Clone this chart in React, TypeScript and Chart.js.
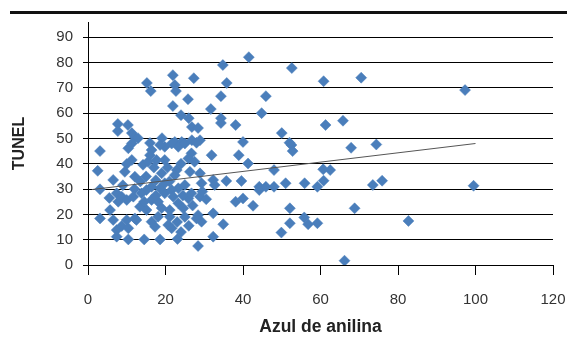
import React, { useEffect, useRef } from "react";
import { Chart, registerables } from "chart.js";

Chart.register(...registerables);

// Scatter values: Azul de anilina (x) vs TUNEL (y)
const azulAnilina: number[] = [
  21.9, 27.3, 15.2, 16.2, 22.4, 22.7, 25.8, 21.9, 24.0, 26.0, 26.8, 28.4, 7.7, 7.7, 10.3, 11.3, 12.1, 12.9, 19.1, 16.0,
  22.4, 24.2, 26.8, 28.9, 41.5, 34.8, 52.6, 60.8, 35.8, 34.3, 45.9, 31.7, 44.8, 34.3, 34.3, 38.1, 50.0, 61.3, 40.0, 97.3,
  99.5, 82.7, 70.5, 65.8, 67.9, 74.4, 52.0, 52.5, 52.8, 38.9, 41.3, 48.0, 60.7, 62.5, 35.7, 39.6, 44.2, 45.9, 44.2, 48.0,
  51.0, 55.9, 59.2, 60.8, 73.5, 75.9, 38.1, 40.0, 42.6, 52.1, 68.8, 34.9, 52.1, 55.8, 56.8, 59.2, 49.9, 66.2, 31.9, 32.3,
  32.3, 28.4, 23.1, 28.4, 29.3, 28.0, 28.9, 32.3, 32.7, 21.6, 23.3, 25.0, 28.0, 26.7, 25.9, 22.9, 22.4, 26.3, 28.9, 25.0,
  23.3, 21.6, 26.7, 25.9, 29.3, 19.8, 23.3, 24.6, 21.1, 21.1, 20.7, 21.6, 19.8, 3.1, 2.5, 6.5, 9.5, 3.1, 12.1, 10.4,
  11.3, 10.0, 11.3, 5.7, 3.1, 6.5, 7.4, 7.4, 10.4, 14.5, 18.6, 8.7, 10.0, 12.5, 10.4, 7.4, 8.7, 10.0, 11.7, 7.8,
  13.4, 15.1, 12.1, 16.4, 17.3, 18.1, 15.1, 13.8, 16.4, 18.1, 16.4, 18.6, 19.0, 17.7, 19.8, 16.4, 16.0, 18.6, 19.8, 14.2,
  15.5, 17.0, 13.5, 15.0, 17.5, 20.5, 21.0, 24.0, 27.5, 29.5, 30.5, 22.0, 24.5, 27.0, 25.0, 23.0, 26.0, 24.0, 19.0, 17.5,
  14.5, 12.0, 9.0, 5.5,
];
const tunel: number[] = [
  75.0, 73.8, 71.9, 68.7, 71.1, 68.7, 65.5, 62.8, 59.2, 58.0, 54.5, 54.1, 55.7, 52.9, 55.3, 52.1, 50.5, 50.1, 50.1, 48.2,
  48.6, 48.6, 49.3, 49.3, 82.1, 79.0, 77.8, 72.6, 71.9, 66.7, 66.7, 61.6, 60.0, 58.0, 56.1, 55.3, 52.1, 55.3, 48.6, 69.1,
  31.3, 17.4, 74.0, 57.0, 46.3, 47.6, 48.3, 47.4, 45.0, 43.4, 40.1, 37.5, 37.8, 37.5, 33.2, 33.2, 30.9, 30.9, 29.6, 30.9,
  32.3, 32.3, 30.9, 33.3, 31.6, 33.3, 25.0, 26.3, 23.4, 22.4, 22.4, 16.1, 16.5, 18.8, 16.1, 16.5, 12.8, 1.7, 43.4, 20.4,
  11.2, 7.5, 10.3, 19.7, 17.1, 18.4, 27.0, 33.6, 31.6, 48.0, 46.7, 48.0, 48.3, 44.1, 42.1, 37.5, 35.5, 36.8, 36.2, 31.6,
  30.3, 29.6, 28.3, 26.3, 32.3, 28.3, 24.4, 22.4, 21.7, 19.1, 15.8, 14.5, 41.5, 45.0, 37.2, 33.6, 36.8, 29.9, 34.9, 46.1,
  48.0, 39.9, 41.5, 21.7, 18.4, 17.8, 13.8, 11.2, 10.1, 10.1, 10.1, 15.4, 17.8, 17.8, 14.5, 28.3, 27.0, 25.7, 27.0, 25.0,
  23.0, 21.7, 18.4, 17.1, 15.1, 19.1, 29.6, 28.3, 25.7, 25.0, 30.9, 30.3, 36.2, 41.5, 46.7, 45.4, 43.4, 47.4, 32.3, 39.6,
  40.8, 38.5, 33.0, 35.0, 33.5, 38.5, 33.0, 40.0, 40.8, 29.0, 26.0, 27.0, 27.5, 23.5, 19.0, 17.0, 15.5, 13.0, 22.5, 27.5,
  25.0, 30.0, 31.5, 26.5,
];

// Linear trend line end points
const trendX: number[] = [1, 100];
const trendY: number[] = [29.8, 48.0];

const yTicks: number[] = [0, 10, 20, 30, 40, 50, 60, 70, 80, 90];
const xTicks: number[] = [0, 20, 40, 60, 80, 100, 120];

const FONT = '"Liberation Sans", Arial, sans-serif';

export default function App() {
  const ref = useRef<HTMLCanvasElement | null>(null);

  useEffect(() => {
    const canvas = ref.current;
    if (!canvas) return;
    const points = azulAnilina.map((x, i) => ({ x, y: tunel[i] }));
    const trend = trendX.map((x, i) => ({ x, y: trendY[i] }));

    const topRule = {
      id: "topRule",
      afterDraw(chart: any) {
        const ctx = chart.ctx;
        ctx.save();
        ctx.fillStyle = "#111";
        ctx.fillRect(10, 11, 557, 3);
        ctx.restore();
      },
    };

    const chart = new Chart(canvas, {
      type: "scatter",
      data: {
        datasets: [
          {
            type: "line",
            label: "trend",
            data: trend,
            borderColor: "#555",
            borderWidth: 1,
            pointRadius: 0,
            fill: false,
            order: 0,
          } as any,
          {
            label: "data",
            data: points,
            pointStyle: "rectRot",
            pointRadius: 5.5,
            pointBackgroundColor: "#4a7ebb",
            pointBorderColor: "#4a7ebb",
            pointBorderWidth: 0.5,
            order: 1,
          },
        ],
      },
      options: {
        animation: false,
        responsive: false,
        maintainAspectRatio: false,
        layout: { padding: { top: 22, right: 0, left: 0, bottom: 0 } },
        plugins: { legend: { display: false }, tooltip: { enabled: false }, title: { display: false } },
        scales: {
          x: {
            type: "linear",
            min: 0,
            max: 120,
            afterBuildTicks: (s: any) => {
              s.ticks = xTicks.map((v) => ({ value: v }));
            },
            afterFit: (s: any) => {
              s.height = 77;
              s.paddingLeft = 0;
              s.paddingRight = 14;
            },
            grid: {
              drawOnChartArea: false,
              drawTicks: true,
              tickLength: 10,
              color: "#000",
              lineWidth: 1,
            },
            border: { display: true, color: "#000", width: 1 },
            ticks: {
              padding: 16,
              color: "#333",
              font: { family: FONT, size: 15 },
              maxRotation: 0,
            },
            title: {
              display: true,
              text: "Azul de anilina",
              color: "#222",
              font: { family: FONT, size: 17.5, weight: "bold" },
              padding: { top: 0, bottom: 4 },
            },
          },
          y: {
            type: "linear",
            min: 0,
            max: 96,
            afterBuildTicks: (s: any) => {
              s.ticks = yTicks.map((v) => ({ value: v }));
            },
            afterFit: (s: any) => {
              s.width = 88;
              s.paddingTop = 0;
              s.paddingBottom = 0;
            },
            grid: {
              drawOnChartArea: true,
              drawTicks: true,
              tickLength: 5,
              color: "#000",
              lineWidth: 1,
            },
            border: { display: true, color: "#000", width: 1 },
            ticks: {
              padding: 10,
              color: "#333",
              font: { family: FONT, size: 15 },
            },
            title: {
              display: true,
              text: "TUNEL",
              color: "#222",
              font: { family: FONT, size: 16, weight: "bold" },
              padding: { top: 10, bottom: 0 },
            },
          },
        },
      },
      plugins: [topRule],
    });

    return () => chart.destroy();
  }, []);

  return (
    <div style={{ position: "fixed", left: 0, top: 0, width: 567, height: 342, background: "#fff" }}>
      <canvas ref={ref} width={567} height={342} style={{ width: 567, height: 342, display: "block" }} />
    </div>
  );
}
